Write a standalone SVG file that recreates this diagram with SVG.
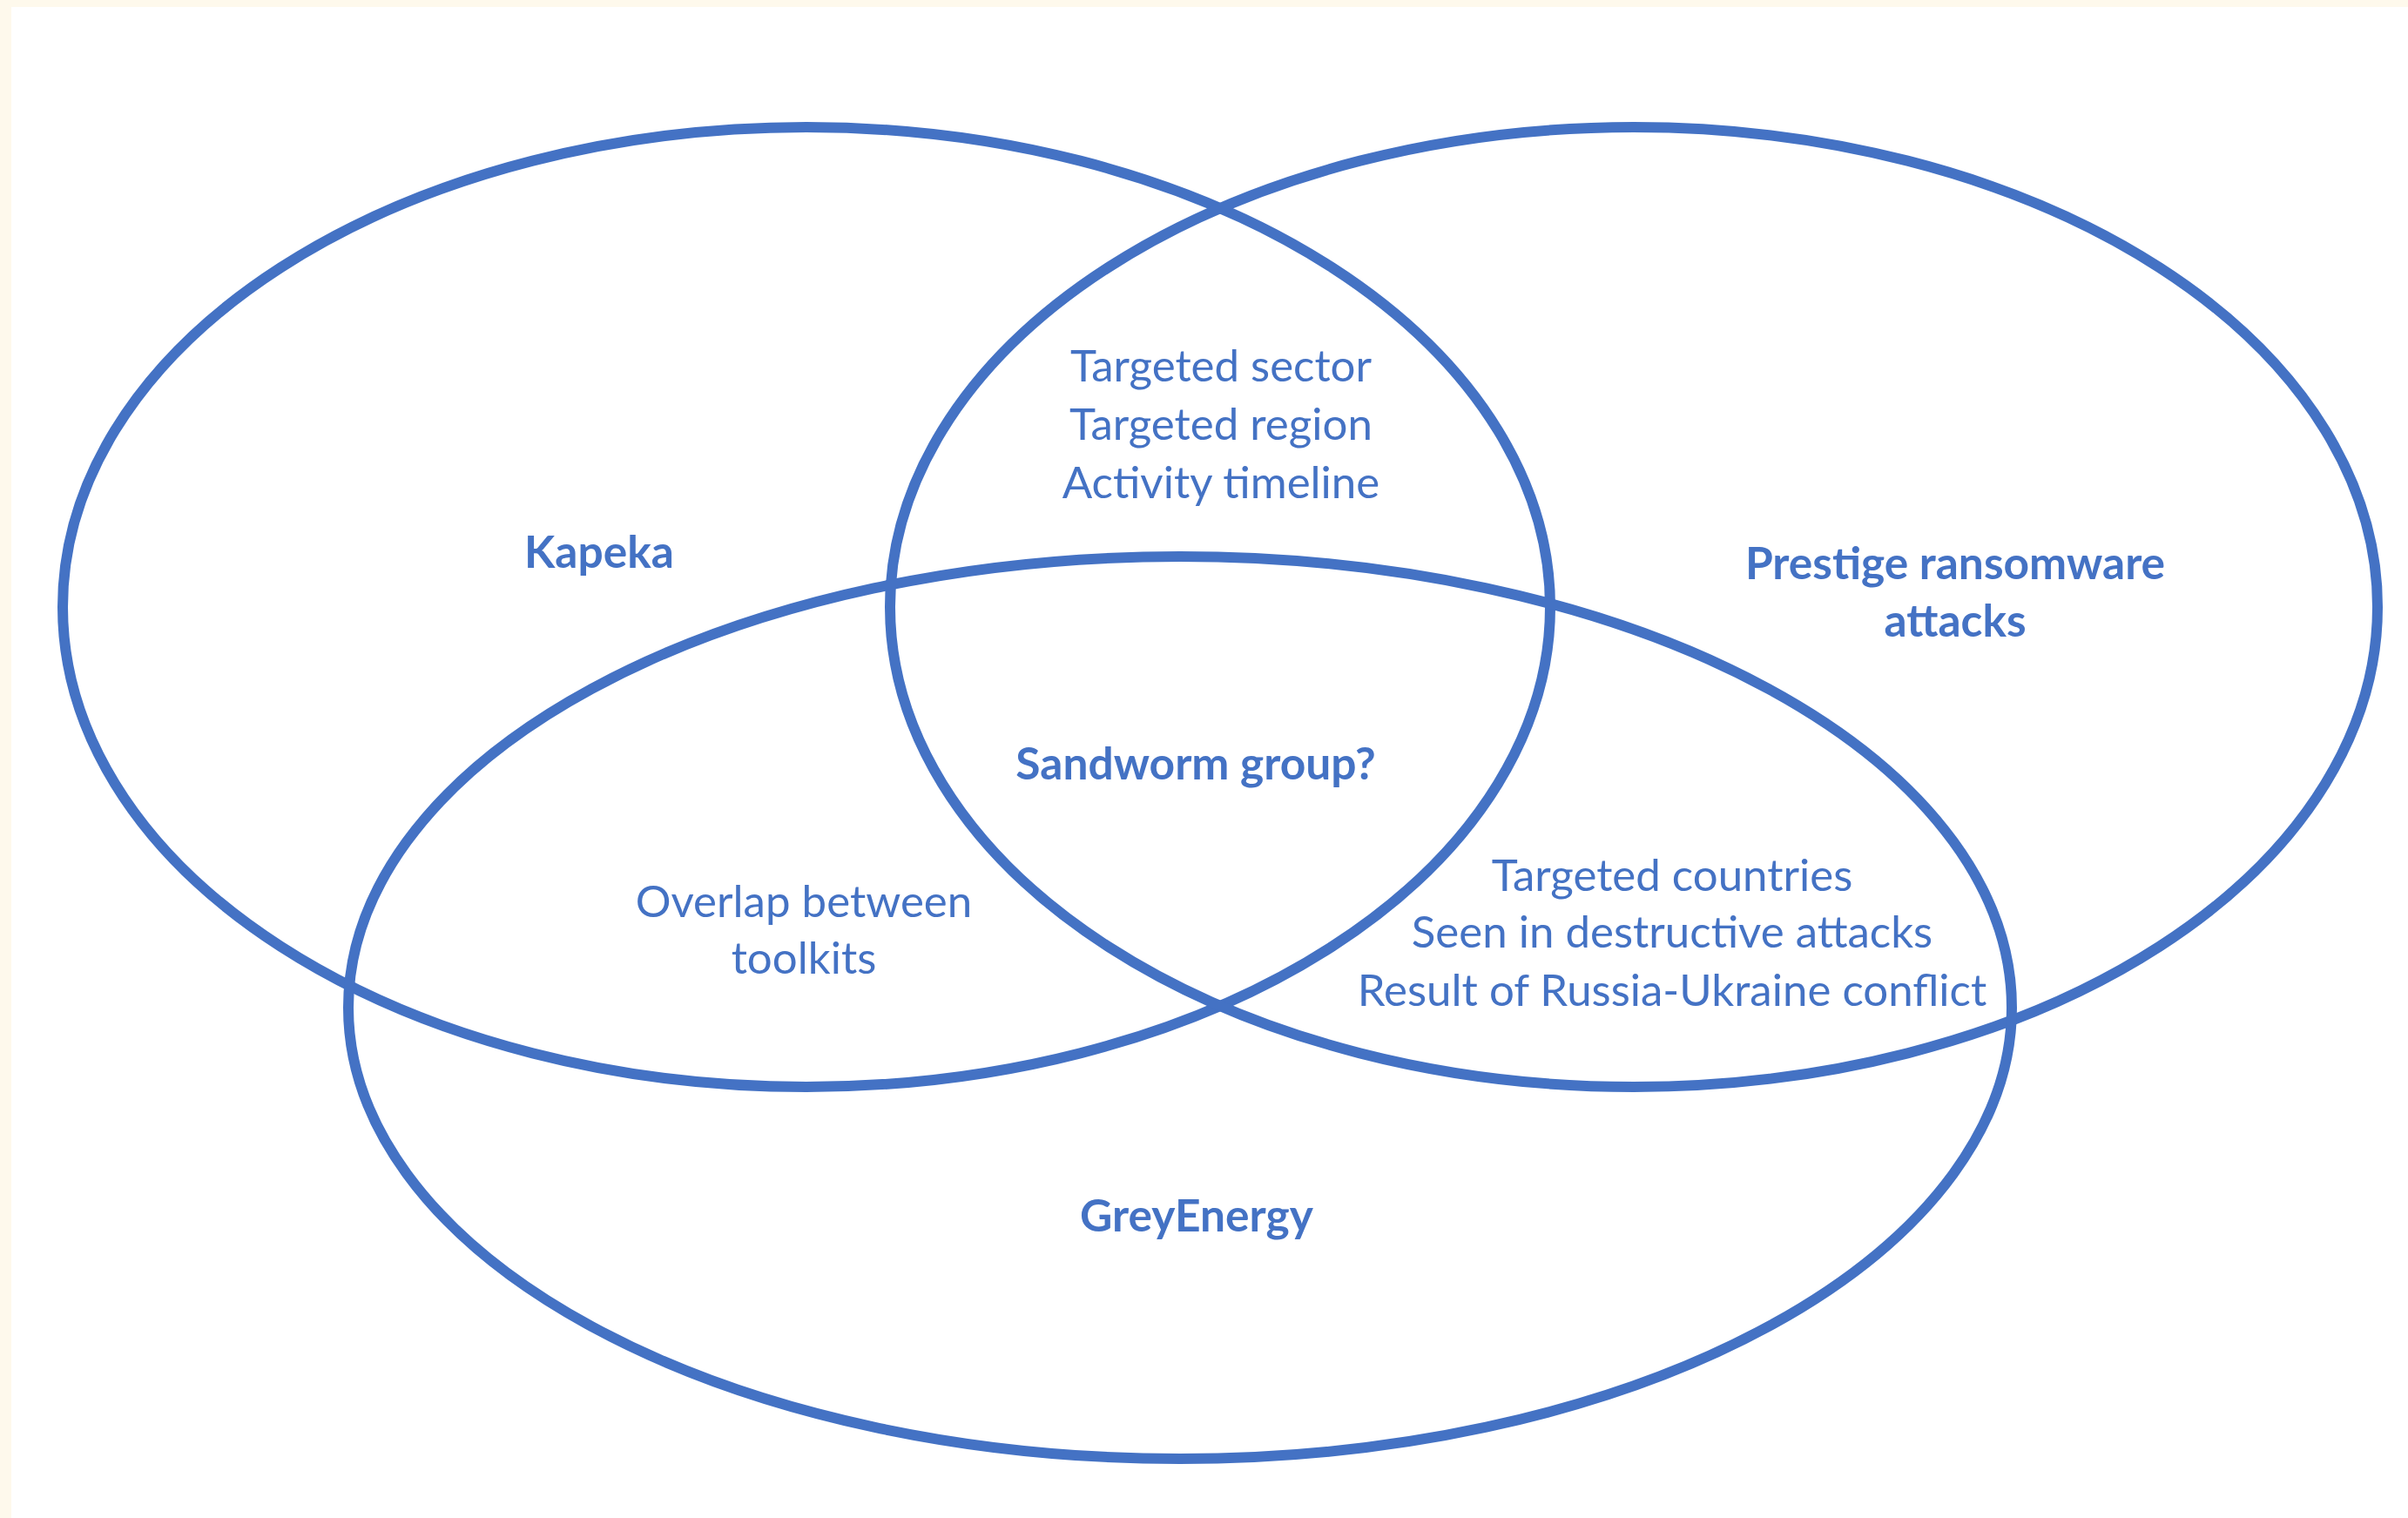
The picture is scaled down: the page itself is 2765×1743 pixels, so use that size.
<svg xmlns="http://www.w3.org/2000/svg" width="2765" height="1743" viewBox="0 0 2765 1743">
  <style>
    .ring { fill: none; stroke: #4472C4; stroke-width: 12; }
    .title { font-family: Lato, "Open Sans", sans-serif; font-weight: bold; font-size: 51.5px; fill: #4472C4; text-anchor: middle; }
    .item { font-family: Lato, "Open Sans", sans-serif; font-size: 51px; fill: #4472C4; text-anchor: middle; }
  </style>
  <!-- page background with a thin cream margin -->
  <rect x="0" y="0" width="2765" height="1743" fill="#FEF9EC"/>
  <rect x="13" y="8" width="2752" height="1735" fill="#FFFFFF"/>

  <!-- set outlines -->
  <g id="kapeka">
    <ellipse class="ring" cx="926" cy="697" rx="854" ry="551"/>
    <text class="title" x="688" y="652">Kapeka</text>
  </g>
  <g id="prestige">
    <ellipse class="ring" cx="1876" cy="697" rx="854" ry="551"/>
    <text class="title" x="2245" y="665">Prestige ransomware</text>
    <text class="title" x="2245" y="731">attacks</text>
  </g>
  <g id="greyenergy">
    <ellipse class="ring" cx="1355" cy="1157" rx="955" ry="518"/>
    <text class="title" x="1374" y="1414">GreyEnergy</text>
  </g>

  <!-- overlap labels -->
  <g id="kapeka-prestige">
    <text class="item" x="1402" y="438">Targeted sector</text>
    <text class="item" x="1402" y="505">Targeted region</text>
    <text class="item" x="1402" y="572">Activity timeline</text>
  </g>
  <g id="kapeka-greyenergy">
    <text class="item" x="923" y="1053">Overlap between</text>
    <text class="item" x="923" y="1118">toolkits</text>
  </g>
  <g id="prestige-greyenergy">
    <text class="item" x="1920" y="1023">Targeted countries</text>
    <text class="item" x="1920" y="1088">Seen in destructive attacks</text>
    <text class="item" x="1920" y="1155">Result of Russia-Ukraine conflict</text>
  </g>
  <g id="center">
    <text class="title" x="1373" y="895">Sandworm group?</text>
  </g>

  <g id="connectors"/>
</svg>
